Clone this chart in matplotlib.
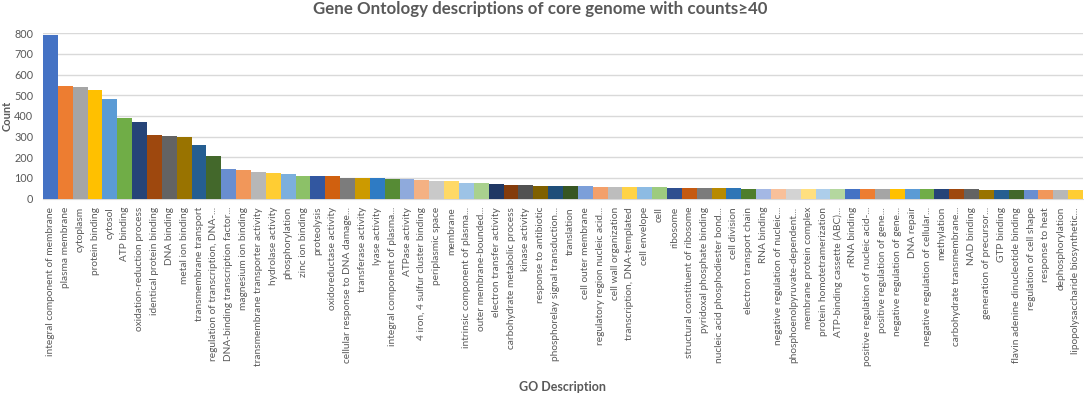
import matplotlib
matplotlib.use("Agg")
import matplotlib.pyplot as plt

# GO terms of the core genome, counts
descriptions = [
    "integral component of membrane", "plasma membrane", "cytoplasm", "protein binding",
    "cytosol", "ATP binding", "oxidation-reduction process", "identical protein binding",
    "DNA binding", "metal ion binding", "transmembrane transport",
    "regulation of transcription, DNA-...", "DNA-binding transcription factor...",
    "magnesium ion binding", "transmembrane transporter activity", "hydrolase activity",
    "phosphorylation", "zinc ion binding", "proteolysis", "oxidoreductase activity",
    "cellular response to DNA damage...", "transferase activity", "lyase activity",
    "integral component of plasma...", "ATPase activity", "4 iron, 4 sulfur cluster binding",
    "periplasmic space", "membrane", "intrinsic component of plasma...",
    "outer membrane-bounded...", "electron transfer activity", "carbohydrate metabolic process",
    "kinase activity", "response to antibiotic", "phosphorelay signal transduction...",
    "translation", "cell outer membrane", "regulatory region nucleic acid...",
    "cell wall organization", "transcription, DNA-templated", "cell envelope", "cell",
    "ribosome", "structural constituent of ribosome", "pyridoxal phosphate binding",
    "nucleic acid phosphodiester bond...", "cell division", "electron transport chain",
    "RNA binding", "negative regulation of nucleic...", "phosphoenolpyruvate-dependent...",
    "membrane protein complex", "protein homotetramerization", "ATP-binding cassette (ABC)...",
    "rRNA binding", "positive regulation of nucleic acid-...", "positive regulation of gene...",
    "negative regulation of gene...", "DNA repair", "negative regulation of cellular...",
    "methylation", "carbohydrate transmembrane...", "NAD binding", "generation of precursor...",
    "GTP binding", "flavin adenine dinucleotide binding", "regulation of cell shape",
    "response to heat", "dephosphorylation", "lipopolysaccharide biosynthetic...",
]
counts = [
    790, 547, 542, 524, 482, 392, 373, 310, 305, 300, 257, 208,
    142, 137, 131, 126, 118, 108, 108, 108, 98, 98, 98, 95, 95, 90,
    85, 85, 76, 76, 71, 68, 68, 63, 63, 63, 63, 58, 58, 58, 58, 58,
    53, 53, 53, 53, 53, 48, 48, 48, 48, 48, 44, 44, 44, 44, 44, 44,
    44, 44, 44, 44, 44, 40, 40, 40, 40, 40, 40, 40,
]

# excel "vary colors by point" palette
palette = [
    "#4472C4", "#ED7D31", "#A5A5A5", "#FFC000", "#5B9BD5", "#70AD47",
    "#264478", "#9E480E", "#636363", "#997300", "#255E91", "#43682B",
    "#698ED0", "#F1975A", "#B7B7B7", "#FFCD33", "#7CAFDD", "#8CC168",
    "#3257A0", "#D0600F", "#7C7C7C", "#CC9A00", "#2E7BC4", "#568B35",
    "#8FAADC", "#F4B183", "#C9C9C9", "#FFD966", "#9DC3E6", "#A9D18E",
    "#203864", "#843C0C", "#525252", "#7F6000", "#1F4E79", "#375623",
    "#7C9FD9", "#F3A06B", "#BDBDBD", "#FFD347", "#8DBBE3", "#9DCB7F",
    "#2F4F8F", "#C55A11", "#7B7B7B", "#B88A00", "#2E75B6", "#4E7D2C",
    "#A4B8E4", "#F8C09A", "#D3D3D3", "#FFDF7F", "#ADCEEA", "#B4D79F",
]

plt.rcParams['font.family'] = ['Lato', 'DejaVu Sans']
txt = "#595959"

fig = plt.figure(figsize=(10.84, 3.94), dpi=100)
ax = fig.add_axes([0.0397, 0.496, 0.9594, 0.4195])

x = range(len(counts))
colors = [palette[i % len(palette)] for i in x]
ax.bar(x, counts, width=1.0, color=colors, zorder=3)

ax.set_xlim(-0.5, len(counts) - 0.5)
ax.set_ylim(0, 800)
ax.set_yticks(range(0, 801, 100))
ax.yaxis.grid(True, color="#D9D9D9", linewidth=1.0, zorder=0)
for s in ["top", "right", "left"]:
    ax.spines[s].set_visible(False)
ax.spines["bottom"].set_color("#D9D9D9")
ax.tick_params(axis="y", length=0, labelsize=7.8, labelcolor=txt, pad=7)
ax.tick_params(axis="x", length=0, pad=6)
ax.set_xticks(list(x))
ax.set_xticklabels(descriptions, rotation=90, fontsize=7.3, color=txt)

fig.text(0.0065, 0.705, "Count", rotation=90, ha="center", va="center",
         fontsize=8, fontweight="bold", color=txt)
fig.text(0.519, 0.018, "GO Description", ha="center", va="center",
         fontsize=9, fontweight="bold", color=txt)
fig.text(0.4986, 0.978, "Gene Ontology descriptions of core genome with counts\u226540",
         ha="center", va="center", fontsize=12.2, fontweight="bold", color=txt)

fig.savefig("out.png", dpi=100)
